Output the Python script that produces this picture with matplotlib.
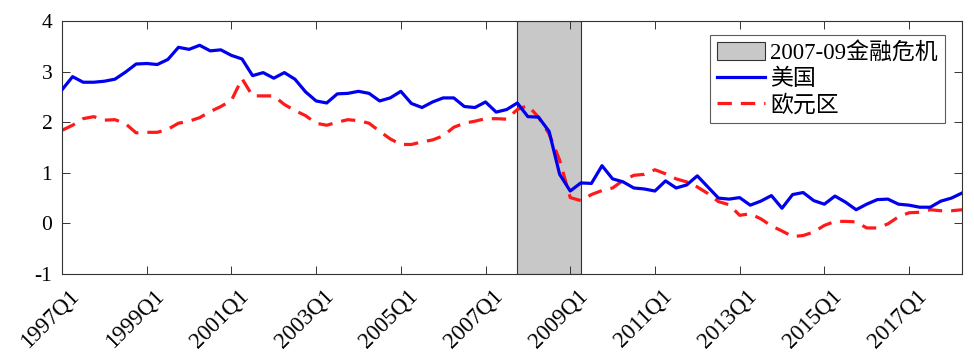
import matplotlib
matplotlib.use("Agg")
import matplotlib.pyplot as plt
from matplotlib.transforms import ScaledTranslation
import numpy as np

plt.rcParams['font.family'] = ['Liberation Serif', 'Noto Sans CJK SC']
plt.rcParams['axes.unicode_minus'] = False

# quarterly series, 1997Q1 .. 2018Q2
us = [2.64, 2.90, 2.79, 2.79, 2.81, 2.85, 2.99, 3.15, 3.16, 3.14,
      3.24, 3.48, 3.44, 3.52, 3.41, 3.43, 3.32, 3.25, 2.92, 2.98,
      2.87, 2.98, 2.85, 2.60, 2.42, 2.38, 2.56, 2.57, 2.61, 2.57,
      2.42, 2.48, 2.61, 2.37, 2.29, 2.40, 2.48, 2.48, 2.31, 2.29,
      2.40, 2.20, 2.25, 2.38, 2.11, 2.10, 1.82, 0.97, 0.64, 0.80,
      0.79, 1.14, 0.88, 0.82, 0.70, 0.68, 0.64, 0.84, 0.70, 0.76,
      0.94, 0.72, 0.50, 0.48, 0.51, 0.36, 0.44, 0.55, 0.30, 0.57,
      0.61, 0.45, 0.38, 0.54, 0.42, 0.27, 0.38, 0.47, 0.48, 0.38,
      0.36, 0.32, 0.32, 0.44, 0.50, 0.60]
ea = [1.84, 1.94, 2.07, 2.11, 2.04, 2.05, 1.97, 1.79, 1.80, 1.80,
      1.86, 1.98, 2.02, 2.09, 2.21, 2.31, 2.43, 2.86, 2.52, 2.52,
      2.52, 2.35, 2.23, 2.13, 1.98, 1.94, 2.00, 2.05, 2.03, 1.98,
      1.82, 1.67, 1.56, 1.56, 1.61, 1.65, 1.73, 1.90, 1.98, 2.02,
      2.07, 2.07, 2.06, 2.25, 2.33, 2.10, 1.77, 1.25, 0.51, 0.45,
      0.57, 0.65, 0.70, 0.85, 0.95, 0.97, 1.06, 0.98, 0.88, 0.82,
      0.72, 0.59, 0.43, 0.37, 0.16, 0.19, 0.09, -0.05, -0.15, -0.26,
      -0.24, -0.17, -0.04, 0.04, 0.04, 0.03, -0.09, -0.09, -0.01, 0.13,
      0.21, 0.22, 0.27, 0.25, 0.25, 0.27]
crisis_start = 43  # 2007Q4
crisis_end = 49    # 2009Q2
tick_pos = [0, 8, 16, 24, 32, 40, 48, 56, 64, 72, 80]
tick_labels = ['1997Q1', '1999Q1', '2001Q1', '2003Q1', '2005Q1', '2007Q1',
               '2009Q1', '2011Q1', '2013Q1', '2015Q1', '2017Q1']
yticks = [-1, 0, 1, 2, 3, 4]

fig = plt.figure(figsize=(9.74, 3.6), dpi=100)
ax = fig.add_axes([62/974, 1-274/360, 900/974, 253/360])

x = np.arange(len(us))
ax.axvspan(crisis_start, crisis_end, facecolor='#c8c8c8', edgecolor='#333333',
           linewidth=0.8, label='2007-09金融危机', zorder=1)
ax.plot(x, us, color='#0000ee', lw=2.3, label='美国', zorder=3)
ax.plot(x, ea, color='#ff1a1a', lw=2.3, ls=(0, (4.5, 2.8)), label='欧元区', zorder=2)

ax.set_xlim(0, len(us) - 1)
ax.set_ylim(-1, 4)
ax.set_yticks(yticks)
ax.set_yticklabels([str(v) for v in yticks], fontsize=15.5)
ax.set_xticks(tick_pos)
ax.set_xticklabels(tick_labels, fontsize=16.5, rotation=45, ha='right',
                   va='center', rotation_mode='anchor')
ax.tick_params(axis='both', direction='in', top=True, right=True, length=6,
               width=0.7, color='#333333')
ax.tick_params(axis='x', pad=0)
ax.tick_params(axis='y', pad=7)
off = ScaledTranslation(0.14, -0.19, fig.dpi_scale_trans)
for lab in ax.get_xticklabels():
    lab.set_transform(lab.get_transform() + off)
for s in ax.spines.values():
    s.set_color('#333333')
    s.set_linewidth(0.8)

leg = ax.legend(loc='upper right', bbox_to_anchor=(0.981, 0.945), fontsize=16.5,
                frameon=True, fancybox=False, edgecolor='#333333',
                handlelength=2.1, handletextpad=0.25, borderpad=0.3,
                labelspacing=0.2, borderaxespad=0, handleheight=0.8)
leg.get_frame().set_linewidth(0.8)

fig.savefig('out.png', dpi=100)
